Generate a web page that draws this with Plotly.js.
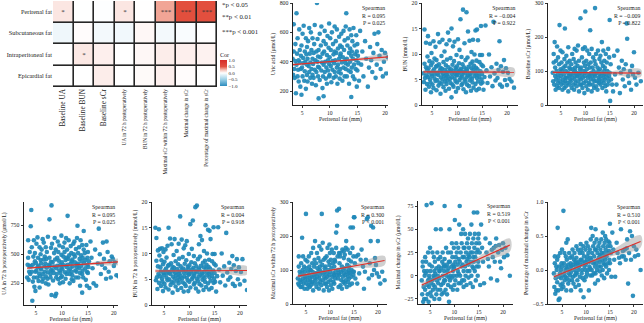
<!DOCTYPE html>
<html>
<head>
<meta charset="utf-8">
<script src="https://cdn.plot.ly/plotly-3.0.1.min.js"></script>
<style>
  html, body { margin: 0; padding: 0; background: #fff; }
  #chart { width: 644px; height: 323px; }
</style>
</head>
<body>
<div id="chart"></div>
<script>
// ---------- correlation heatmap ----------
const outcomes = ['Baseline UA', 'Baseline BUN', 'Baseline sCr',
  'UA in 72 h postoperatively', 'BUN in 72 h postoperatively',
  'Maximal sCr within 72 h postoperatively', 'Maximal change in sCr',
  'Percentage of maximal change in sCr'];
const fatDepots = ['Perirenal fat', 'Subcutaneous fat', 'Intraperitoneal fat', 'Epicardial fat'];
const corr = [
  [0.095, -0.004, -0.009, 0.095, 0.004, 0.300, 0.519, 0.510],
  [-0.08, 0.01, -0.06, -0.07, 0.03, -0.06, -0.03, 0.00],
  [0.00, 0.09, 0.06, 0.00, 0.03, 0.07, 0.06, 0.05],
  [0.00, 0.00, 0.07, 0.00, 0.02, 0.06, 0.01, 0.00]
];
const stars = [
  ['*', '', '', '*', '', '***', '***', '***'],
  ['', '', '', '', '', '', '', ''],
  ['', '*', '', '', '', '', '', ''],
  ['', '', '', '', '', '', '', '']
];
const sigLegend = ['*p < 0.05', '**p < 0.01', '***p < 0.001'];
const corTicks = [1, 0.5, 0, -0.5, -1];

// ---------- perirenal fat thickness (mm), one value per patient ----------
const fat = [
  3.3,3.4,3.5,3.5,3.6,3.7,3.8,3.8,3.9,
  4.0,4.0,4.1,4.2,4.2,4.3,4.4,4.4,4.5,4.6,4.6,4.7,4.8,4.8,4.9,4.9,
  5.0,5.1,5.1,5.2,5.3,5.3,5.4,5.5,5.5,5.6,5.7,5.7,5.8,5.9,5.9,5.9,
  6.0,6.0,6.1,6.2,6.3,6.3,6.4,6.5,6.5,6.6,6.7,6.7,6.8,6.9,6.9,6.9,
  7.0,7.1,7.1,7.2,7.3,7.3,7.4,7.5,7.6,7.6,7.7,7.8,7.8,7.9,7.9,7.9,
  8.0,8.0,8.1,8.2,8.2,8.3,8.4,8.5,8.5,8.6,8.7,8.7,8.8,8.9,8.9,8.9,
  9.0,9.1,9.1,9.2,9.3,9.3,9.4,9.5,9.5,9.6,9.7,9.7,9.8,9.9,9.9,9.9,
  10.0,10.0,10.1,10.2,10.2,10.3,10.4,10.5,10.5,10.6,10.7,10.7,10.8,10.9,10.9,10.9,
  11.0,11.1,11.1,11.2,11.3,11.3,11.4,11.5,11.5,11.6,11.7,11.7,11.8,11.9,11.9,11.9,
  12.0,12.0,12.1,12.2,12.2,12.3,12.4,12.5,12.5,12.6,12.7,12.7,12.8,12.9,12.9,12.9,
  13.0,13.1,13.1,13.2,13.3,13.3,13.4,13.5,13.5,13.6,13.7,13.7,13.8,13.9,13.9,13.9,
  14.0,14.0,14.1,14.2,14.2,14.3,14.4,14.5,14.5,14.6,14.7,14.8,14.8,14.9,14.9,
  15.0,15.0,15.1,15.2,15.3,15.5,
  15.7,15.9,16.1,16.4,16.6,16.9,17.1,17.3,17.5,17.7,17.9,18.1,18.3,18.5,18.6,18.8,19.0,19.2,19.4,19.6,19.8,20.0,20.2,20.5,20.9,21.4
];

// ---------- outcome values per patient ----------
const uaBase = [
  420,310,655,470,350,290,520,405,185,
  730,380,455,300,560,345,410,265,620,395,480,230,350,440,510,175,
  360,590,300,425,645,390,270,470,335,400,215,560,450,310,380,500,
  420,265,540,370,630,330,455,290,395,600,480,350,250,420,560,310,
  385,460,290,520,345,650,410,240,470,330,800,400,555,300,435,365,
  150,480,360,590,275,430,510,340,640,395,220,455,300,540,380,165,
  470,330,610,400,285,520,360,445,250,575,410,340,495,300,660,385,
  430,310,560,370,480,260,600,405,345,520,290,450,390,640,330,470,
  410,540,300,460,360,620,250,490,380,330,570,420,285,510,440,350,
  455,320,590,395,500,270,430,610,360,480,300,545,410,350,640,390,
  730,420,300,510,380,560,340,460,250,620,400,490,330,440,160,580,
  360,470,540,300,420,630,380,510,280,450,350,580,410,230,470,
  520,340,440,390,270,610,
  380,470,300,540,420,230,360,500,410,330,460,590,290,380,520,600,440,350,480,300,400,460,320,430,330,300
];
const bunBase = [
  6.2,4.5,14.8,8.1,5.3,3.0,7.4,12.2,5.8,
  6.9,4.1,9.5,5.5,13.5,7.2,3.6,6.4,8.6,5.0,12.0,4.4,7.8,2.5,6.1,10.2,
  5.7,8.3,4.0,6.6,12.5,3.3,7.0,5.2,9.1,6.0,4.7,11.4,7.5,2.9,6.3,8.8,
  4.9,7.7,6.2,13.9,3.8,5.9,8.0,4.4,12.3,6.8,2.2,7.3,5.4,9.6,6.5,4.2,
  7.1,5.0,12.8,6.1,3.5,8.4,5.7,10.5,4.6,6.9,2.8,7.8,5.3,11.9,6.4,4.1,
  6.0,8.9,4.8,14.2,5.6,7.4,3.2,6.7,12.7,5.1,9.2,4.3,7.0,1.5,6.2,15.0,
  5.5,7.9,4.0,11.5,6.6,3.6,8.6,5.2,12.4,6.1,4.7,7.3,2.6,9.8,5.8,6.9,
  4.4,7.6,5.9,12.9,3.3,6.4,8.2,4.9,10.8,6.8,5.3,16.8,7.1,3.9,6.0,9.4,
  5.6,8.0,4.2,18.7,6.5,3.1,7.4,5.0,12.1,6.2,4.6,8.8,2.5,7.0,18.2,5.4,
  6.7,4.0,9.3,5.8,14.4,7.5,3.7,6.1,12.6,4.8,8.1,5.5,2.8,7.2,10.4,6.3,
  5.1,8.5,4.4,12.8,6.9,3.4,7.7,5.7,9.9,6.4,4.1,14.6,7.3,2.9,6.0,8.7,
  5.3,14.8,7.0,4.6,12.7,6.2,3.2,8.4,5.5,9.8,6.6,4.2,15.5,7.9,5.0,
  9.8,6.1,4.4,7.6,3.0,5.5,
  15.6,6.8,4.3,9.9,5.6,7.4,3.7,16.3,6.2,4.8,8.1,5.3,6.9,12.5,4.0,7.6,3.6,6.5,8.8,4.9,7.2,3.9,6.3,5.1,4.6,3.4
];
const scrBase = [
  95,70,125,150,60,185,85,110,45,
  130,75,100,55,172,90,65,140,80,120,50,235,95,70,160,105,
  85,60,125,100,45,155,75,110,65,90,135,50,225,80,115,70,
  100,55,145,80,125,65,95,40,170,85,110,60,130,75,90,105,
  70,120,90,50,150,80,105,60,135,95,45,165,75,110,85,100,
  125,65,95,160,55,85,115,70,175,90,40,130,80,105,60,95,
  255,75,110,60,140,90,50,165,80,100,65,125,35,170,85,115,
  95,275,70,130,55,105,160,80,45,120,90,65,150,85,110,60,
  220,75,125,95,40,165,85,110,60,140,75,100,50,130,90,70,
  285,85,120,55,150,95,70,110,45,160,80,100,65,135,90,75,
  105,60,145,85,125,70,185,95,50,115,80,160,65,100,90,130,
  75,110,55,150,90,40,125,80,100,60,165,95,70,140,85,
  250,95,12,120,75,60,
  40,145,90,60,160,110,35,95,130,75,105,55,120,240,195,85,65,100,45,115,90,155,80,60,95,70
];
const ua72 = [
  300,410,470,620,280,350,400,520,330,
  740,395,880,350,560,100,265,410,480,620,300,220,510,440,350,185,
  425,360,590,300,390,645,470,270,400,335,560,215,310,450,500,380,
  370,420,540,265,330,630,290,455,600,395,350,480,420,250,310,560,
  460,385,520,290,650,345,240,410,800,470,400,330,300,555,365,435,
  150,920,590,360,430,275,340,510,395,640,140,455,540,300,160,380,
  330,470,400,610,520,285,445,360,575,250,340,410,300,495,385,660,
  310,430,370,560,260,480,405,600,520,345,450,290,640,390,470,330,
  540,410,830,460,620,360,490,250,330,380,420,570,510,285,350,440,
  320,455,395,590,270,500,610,430,480,360,545,300,350,410,390,640,
  745,420,510,300,560,380,460,340,230,620,490,400,440,330,170,580,
  470,360,300,540,700,420,510,380,450,280,580,350,230,410,470,
  340,520,390,440,210,610,
  470,380,250,540,230,420,720,500,330,410,600,460,380,290,610,520,350,440,300,480,460,400,430,320,310,330
];
const bun72 = [
  15.0,4.8,13.0,8.6,5.4,3.1,7.5,10.6,6.0,
  14.7,4.3,9.6,5.6,10.9,7.3,3.7,6.5,8.7,5.1,11.0,4.5,7.9,2.7,6.2,10.3,
  5.8,8.4,4.1,6.7,10.8,3.4,7.1,5.3,9.2,6.1,4.8,11.5,7.6,3.0,6.4,15.0,
  5.0,7.8,6.3,12.9,3.9,6.0,8.1,4.5,11.8,6.9,2.4,7.4,5.5,9.7,6.6,4.3,
  7.2,5.1,12.8,6.2,3.6,8.5,5.8,10.5,4.7,7.0,2.9,7.9,5.4,11.9,6.5,4.2,
  6.1,9.0,4.9,17.2,5.7,7.5,3.3,6.8,12.7,5.2,9.3,4.4,7.1,2.6,6.3,11.0,
  5.6,8.0,4.1,11.6,6.7,3.7,8.7,5.3,12.4,6.2,4.8,7.4,2.7,9.9,5.9,7.0,
  4.5,7.7,6.0,15.7,3.4,6.5,8.3,5.0,10.9,6.9,5.4,16.4,7.2,4.0,6.1,9.5,
  5.7,8.1,4.3,19.0,6.6,3.2,7.5,5.1,19.3,6.3,4.7,8.9,2.6,7.1,11.8,5.5,
  6.8,4.1,9.4,5.9,13.4,7.6,3.8,6.2,12.6,4.9,8.2,5.6,2.9,7.3,10.5,6.4,
  5.2,8.6,4.5,15.5,7.0,3.5,7.8,5.8,10.0,6.5,4.2,14.6,7.4,3.0,6.1,8.8,
  5.4,14.4,7.1,4.7,12.8,6.3,3.3,8.5,5.6,9.9,6.7,4.3,15.1,8.0,5.1,
  9.9,6.2,4.5,7.7,2.6,5.6,
  15.1,6.9,4.4,10.0,5.7,7.5,3.8,14.0,6.3,4.9,8.2,5.4,7.0,9.5,4.1,7.7,3.7,6.6,8.9,5.0,7.3,4.0,6.4,8.9,4.7,2.9
];
const scrMax72 = [
  75,60,110,140,55,95,70,85,50,
  120,65,90,195,50,100,75,140,60,85,110,45,95,70,130,80,
  265,60,105,80,45,125,70,95,55,140,85,110,50,75,100,65,
  100,55,150,80,120,65,95,40,165,85,110,60,130,75,90,185,
  70,120,90,50,150,80,105,60,135,95,45,170,75,110,85,100,
  125,65,95,160,55,265,115,70,180,90,40,130,80,105,60,95,
  135,75,110,60,140,90,50,165,80,100,65,125,40,175,85,115,
  95,150,70,130,55,105,160,80,45,120,90,65,150,85,110,60,
  130,75,125,95,210,165,85,275,230,140,75,100,50,150,90,280,
  120,85,140,55,150,95,70,110,45,160,80,100,65,135,90,155,
  105,60,145,85,165,70,185,95,50,115,80,160,65,100,90,130,
  75,110,55,150,90,225,125,80,100,60,165,95,225,140,85,
  255,95,255,120,75,140,
  60,145,90,130,160,110,45,95,130,250,255,75,120,185,230,85,225,100,135,115,90,185,80,60,95,70
];
const scrChange = [
  -5,-20,10,15,-28,-12,5,-25,0,
  20,-15,3,-25,15,76,-10,5,-20,-5,25,-28,0,-12,12,-3,
  30,-18,5,-8,78,-22,10,-5,25,-15,0,-10,20,-25,5,-2,
  15,-12,2,50,-20,8,-5,25,-15,0,18,-8,10,-25,5,-3,
  5,-15,20,50,-10,8,-20,15,0,25,-8,12,-18,5,-5,10,
  18,75,-5,10,-15,30,0,-20,12,5,25,-10,8,-2,15,-28,
  50,-5,15,0,25,-12,10,35,-2,20,5,-15,12,30,0,8,
  10,-10,60,15,-5,20,35,0,25,-15,12,5,30,-8,18,2,
  55,15,75,0,25,-8,45,10,35,-5,20,12,50,-12,30,5,
  20,-5,30,10,45,0,25,15,-10,35,5,18,40,-2,22,12,
  30,5,20,45,-8,25,15,55,0,35,10,25,-12,20,40,8,
  68,15,30,5,45,20,-5,25,35,10,68,0,28,40,15,
  45,10,35,25,-10,55,
  30,15,-8,40,25,18,10,35,-3,28,20,30,15,32,40,-5,25,33,15,8,28,35,20,30,22,0
];
const scrChangePct = [
  -0.05,-0.25,0.1,0.2,-0.35,-0.12,0.05,-0.3,0.0,
  0.15,-0.18,0.62,-0.3,0.2,-0.44,-0.1,0.05,-0.42,-0.05,0.25,-0.22,0.0,-0.12,0.1,-0.28,
  0.3,-0.2,0.05,-0.08,0.87,-0.25,0.1,-0.05,0.25,-0.15,0.0,-0.1,0.2,-0.3,0.05,0.4,
  0.15,-0.12,0.02,0.45,-0.2,0.08,-0.05,0.25,-0.15,0.0,0.18,-0.08,0.1,-0.3,0.05,-0.03,
  0.05,-0.15,0.2,0.3,-0.1,0.08,-0.2,0.15,0.0,0.25,-0.08,0.12,-0.25,0.05,-0.05,0.1,
  0.18,0.35,-0.05,0.1,-0.15,0.3,0.0,-0.22,0.12,0.05,0.25,-0.1,0.08,-0.3,0.15,0.38,
  0.3,-0.05,0.15,0.0,0.25,-0.12,0.1,0.35,-0.4,0.2,0.05,-0.15,0.12,0.3,0.0,0.08,
  0.1,-0.1,0.4,0.15,-0.05,0.2,0.35,0.0,0.25,-0.3,0.12,0.05,0.3,-0.08,0.18,0.02,
  0.45,0.15,0.62,0.0,0.25,-0.08,0.5,0.1,0.35,-0.05,0.2,0.12,0.4,-0.2,0.3,0.05,
  0.6,-0.05,0.3,0.1,0.45,0.0,0.25,0.15,-0.15,0.35,0.05,0.18,0.4,-0.02,0.22,0.12,
  0.3,0.05,0.2,0.45,-0.08,0.25,0.15,0.55,0.0,0.35,0.1,0.25,-0.12,0.2,0.4,0.08,
  0.5,0.15,0.3,0.05,0.45,0.2,-0.05,0.25,0.35,0.1,0.42,0.0,0.28,0.4,0.15,
  0.68,0.1,0.35,0.25,-0.1,0.55,
  0.3,0.15,-0.1,0.4,0.25,0.18,0.1,0.6,0.2,0.28,0.2,0.3,0.15,0.32,0.45,-0.2,0.25,0.57,0.15,0.5,-0.38,0.35,0.2,0.3,0.22,0.0
];

// ---------- fitted lines (value at first / last fat value) and 95% CI half-widths ----------
const ciX = [3.3, 9.5, 15, 21.4];
const uaBaseFit = [380, 435],   uaBaseCI = [10, 5, 9, 20];
const bunBaseFit = [6.5, 6.45], bunBaseCI = [0.35, 0.2, 0.35, 0.8];
const scrBaseFit = [96, 94],    scrBaseCI = [5, 3, 5, 11];
const ua72Fit = [380, 436],     ua72CI = [10, 5, 9, 20];
const bun72Fit = [6.6, 6.7],    bun72CI = [0.35, 0.2, 0.35, 0.8];
const scrMax72Fit = [82, 128],  scrMax72CI = [6, 3.5, 6, 13];
const scrChangeFit = [-10, 33], scrChangeCI = [3, 1.5, 3, 7];
const scrPctFit = [-0.1, 0.42], scrPctCI = [0.04, 0.02, 0.04, 0.09];

const spearmanR = ['0.095', '−0.004', '−0.009', '0.095', '0.004', '0.300', '0.519', '0.510'];
const spearmanP = ['= 0.025', '= 0.922', '= 0.822', '= 0.025', '= 0.918', '< 0.001', '< 0.001', '< 0.001'];

// ---------- drawing ----------
const W = 644, H = 323;
const SERIF = 'Liberation Serif, DejaVu Serif, serif';
const INK = '#222';
const dx = (a, b) => [a / W, b / W];
const dy = (top, bottom) => [1 - bottom / H, 1 - top / H];

const panels = [
  {y: uaBase, fit: uaBaseFit, ci: uaBaseCI, title: 'Uric acid (μmol/L)',
   box: [293, 388, 3, 105], xr: [3.37, 20.54], yr: [105, 800], yt: [200, 400, 600, 800]},
  {y: bunBase, fit: bunBaseFit, ci: bunBaseCI, title: 'BUN (mmol/L)',
   box: [422, 518, 3, 105], xr: [3.0, 22.2], yr: [0, 20], yt: [0, 5, 10, 15, 20]},
  {y: scrBase, fit: scrBaseFit, ci: scrBaseCI, title: 'Baseline sCr (μmol/L)',
   box: [548, 643, 3, 105], xr: [2.33, 21.85], yr: [0, 300], yt: [0, 100, 200, 300]},
  {y: ua72, fit: ua72Fit, ci: ua72CI, title: 'UA in 72 h postoperatively (μmol/L)',
   box: [24, 118, 202, 305], xr: [2.7, 20.8], yr: [64, 949], yt: [250, 500, 750]},
  {y: bun72, fit: bun72Fit, ci: bun72CI, title: 'BUN in 72 h postoperatively (mmol/L)',
   box: [152, 247, 202, 305], xr: [2.63, 21.4], yr: [0, 20], yt: [0, 5, 10, 15, 20]},
  {y: scrMax72, fit: scrMax72Fit, ci: scrMax72CI, title: 'Maximal sCr within 72 h postoperatively',
   box: [293, 387, 202, 304], xr: [2.3, 21.9], yr: [0, 300], yt: [0, 100, 200, 300]},
  {y: scrChange, fit: scrChangeFit, ci: scrChangeCI, title: 'Maximal change in sCr (μmol/L)',
   box: [418, 513, 201, 304], xr: [2.53, 22.05], yr: [-30.4, 80.4], yt: [-25, 0, 25, 50, 75]},
  {y: scrChangePct, fit: scrPctFit, ci: scrPctCI, title: 'Percentage of maximal change in sCr',
   box: [548, 643, 202, 304], xr: [2.08, 21.9], yr: [-0.5, 1.0], yt: [-0.5, 0, 0.5, 1.0], fmt: '.1f'}
];

const data = [];
const layout = {
  width: W, height: H,
  margin: {l: 0, r: 0, t: 0, b: 0},
  paper_bgcolor: '#fff', plot_bgcolor: 'rgba(0,0,0,0)',
  showlegend: false,
  font: {family: SERIF, color: INK, size: 6},
  annotations: [], shapes: []
};

// heatmap colours: blue (−1) → white (0) → red (+1)
const corScale = [
  [0, '#2b8cbe'], [0.25, '#9bd0e6'], [0.5, '#ffffff'],
  [0.6, '#f7cbc2'], [0.65, '#f1a596'], [0.75, '#e2503e'], [1, '#d52b25']
];

const colLabels = outcomes.map((t, i) =>
  i < 3 ? '<span style="font-size:7.3px">' + t + '</span>' : t);

data.push({
  type: 'heatmap', xaxis: 'x', yaxis: 'y',
  x: outcomes.map((_, i) => i), y: fatDepots.map((_, i) => i),
  z: corr, zmin: -1, zmax: 1, colorscale: corScale,
  text: stars, texttemplate: '%{text}',
  textfont: {family: SERIF, size: 7, color: '#333'},
  xgap: 1.6, ygap: 1.6, hoverinfo: 'skip',
  colorbar: {
    x: 220 / W, xanchor: 'left', xpad: 0,
    y: 1 - 49 / H, yanchor: 'top', ypad: 0,
    len: 37, lenmode: 'pixels', thickness: 7, outlinewidth: 0,
    tickvals: corTicks, ticktext: corTicks.map(v => v.toFixed(1).replace('-', '−')),
    ticks: '', tickfont: {family: SERIF, size: 5, color: INK}, ticklabelposition: 'outside',
    title: {text: 'Cor', side: 'top', font: {family: SERIF, size: 6, color: INK}}
  }
});
layout.xaxis = {
  domain: dx(53, 217), range: [-0.5, outcomes.length - 0.5],
  tickvals: outcomes.map((_, i) => i), ticktext: colLabels,
  tickangle: -90, ticks: '', showgrid: false, zeroline: false, showline: false,
  tickfont: {family: SERIF, size: 5.2, color: INK}, anchor: 'y', fixedrange: true
};
layout.yaxis = {
  domain: dy(1, 87), range: [fatDepots.length - 0.5, -0.5],
  tickvals: fatDepots.map((_, i) => i), ticktext: fatDepots,
  ticks: '', showgrid: false, zeroline: false, showline: false,
  tickfont: {family: SERIF, size: 6.3, color: INK}, anchor: 'x', fixedrange: true
};
// dark cell borders behind the heatmap bricks
layout.shapes.push({
  type: 'rect', xref: 'x', yref: 'y', layer: 'below',
  x0: -0.5, x1: outcomes.length - 0.5, y0: -0.5, y1: fatDepots.length - 0.5,
  fillcolor: '#262626', line: {color: '#262626', width: 1.6}
});
// significance key
[5, 16, 31].forEach((py, i) => layout.annotations.push({
  xref: 'paper', yref: 'paper', x: 220 / W, y: 1 - py / H,
  xanchor: 'left', yanchor: 'middle', showarrow: false,
  text: sigLegend[i], font: {family: SERIF, size: 6.8, color: INK}
}));

// scatter panels
panels.forEach((p, k) => {
  const n = k + 2, xa = 'x' + n, ya = 'y' + n;
  const x0 = fat[0], x1 = fat[fat.length - 1];
  const lineAt = x => p.fit[0] + (p.fit[1] - p.fit[0]) * (x - x0) / (x1 - x0);

  data.push({
    type: 'scatter', mode: 'markers', xaxis: xa, yaxis: ya,
    x: fat, y: p.y, hoverinfo: 'skip', cliponaxis: true,
    marker: {size: 4.6, color: 'rgba(30,136,184,0.92)', line: {width: 0}}
  });
  // confidence band
  const up = ciX.map((x, i) => lineAt(x) + p.ci[i]);
  const lo = ciX.map((x, i) => lineAt(x) - p.ci[i]);
  data.push({
    type: 'scatter', mode: 'lines', xaxis: xa, yaxis: ya,
    x: ciX.concat(ciX.slice().reverse()), y: up.concat(lo.slice().reverse()),
    fill: 'toself', fillcolor: 'rgba(150,150,150,0.45)', line: {width: 0, shape: 'spline'},
    hoverinfo: 'skip'
  });
  data.push({
    type: 'scatter', mode: 'lines', xaxis: xa, yaxis: ya,
    x: [x0, x1], y: p.fit, line: {color: '#e0302a', width: 1.2}, hoverinfo: 'skip'
  });

  const [bx0, bx1, by0, by1] = p.box;
  layout['xaxis' + n] = {
    domain: dx(bx0, bx1), range: p.xr, anchor: ya,
    tickvals: [5, 10, 15, 20], ticks: 'outside', ticklen: 2, tickwidth: 0.9, tickcolor: INK,
    showline: true, linecolor: INK, linewidth: 1, showgrid: false, zeroline: false,
    tickfont: {family: SERIF, size: 5.6, color: INK},
    title: {text: 'Perirenal fat (mm)', standoff: 0, font: {family: SERIF, size: 5.8, color: INK}}
  };
  layout['yaxis' + n] = {
    domain: dy(by0, by1), range: p.yr, anchor: xa,
    tickvals: p.yt, tickformat: p.fmt || '', ticks: 'outside', ticklen: 2.5, tickwidth: 0.9, tickcolor: INK,
    showline: true, linecolor: INK, linewidth: 1, showgrid: false, zeroline: false,
    tickfont: {family: SERIF, size: 5.8, color: INK},
    title: {text: p.title, standoff: 3, font: {family: SERIF, size: 5.6, color: INK}}
  };
  layout.annotations.push({
    xref: xa + ' domain', yref: ya + ' domain', x: 0.99, y: 1.0,
    xanchor: 'right', yanchor: 'top', align: 'right', showarrow: false,
    text: 'Spearman<br>R = ' + spearmanR[k] + '<br>P ' + spearmanP[k],
    font: {family: SERIF, size: 5.8, color: INK}
  });
});

Plotly.newPlot('chart', data, layout, {displayModeBar: false, staticPlot: true});
</script>
</body>
</html>
